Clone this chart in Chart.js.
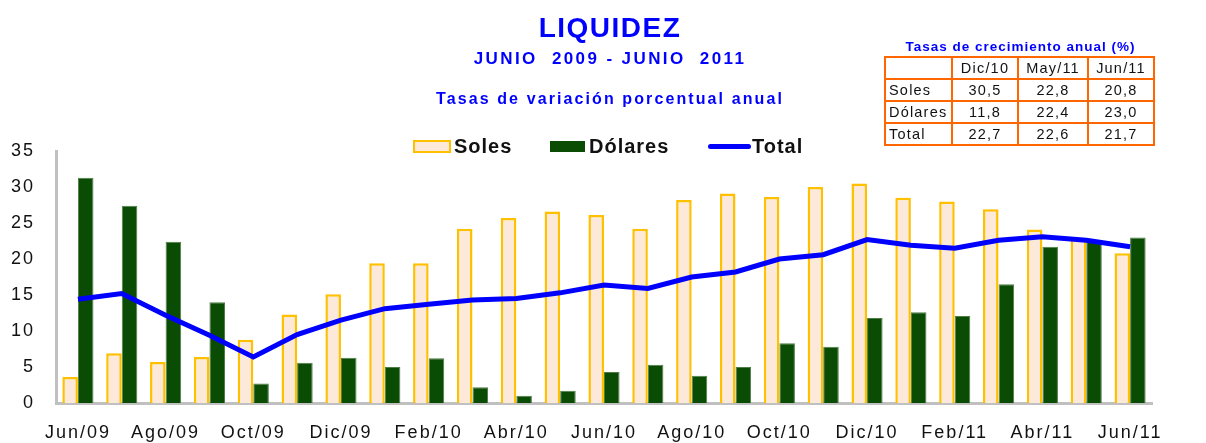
<!DOCTYPE html>
<html>
<head>
<meta charset="utf-8">
<script src="https://cdn.jsdelivr.net/npm/chart.js@4.4.1/dist/chart.umd.min.js"></script>
<style>
    body { margin: 0; background: #fff; font-family: 'Liberation Sans', Arial, sans-serif; }
    #wrap { position: relative; width: 1206px; height: 443px; overflow: hidden; }
    #chart { position: absolute; left: 0; top: 0; }
    .txt { position: absolute; color: #0000ff; font-weight: bold; white-space: pre; text-align: center; }
    #title { left: 0; width: 1220px; top: 12px; font-size: 28px; letter-spacing: 1.5px; }
    #sub1 { left: 0; width: 1220px; top: 49px; font-size: 17px; letter-spacing: 2.4px; }
    #sub2 { left: 0; width: 1220px; top: 90px; font-size: 16px; letter-spacing: 2.1px; }
    .leg { position: absolute; top: 135px; font-size: 20px; font-weight: bold; color: #111; letter-spacing: 1px; }
    .box { position: absolute; }
    #tblTitle { left: 884px; width: 273px; top: 39px; font-size: 13.5px; letter-spacing: 1px; }
    #tbl { position: absolute; left: 884px; top: 56px; border-collapse: collapse; font-size: 14.5px; letter-spacing: 1.2px; color: #111; }
    #tbl td { border: 2.5px solid #ff6600; height: 20px; padding: 0 3px; text-align: center; }
    #tbl td:first-child { text-align: left; }
</style>
</head>
<body>
<div id="wrap">
    <canvas id="chart" width="1206" height="443"></canvas>
    <div class="txt" id="title">LIQUIDEZ</div>
    <div class="txt" id="sub1">JUNIO  2009 - JUNIO  2011</div>
    <div class="txt" id="sub2">Tasas de variación porcentual anual</div>

    <div class="box" style="left:413px;top:140px;width:34px;height:9px;background:#fde9d9;border:2px solid #ffc000;"></div>
    <div class="leg" style="left:454px;">Soles</div>
    <div class="box" style="left:550px;top:141px;width:35px;height:11px;background:#0b4c05;"></div>
    <div class="leg" style="left:589px;">Dólares</div>
    <div class="box" style="left:708px;top:144px;width:43px;height:5px;background:#0000ff;border-radius:3px;"></div>
    <div class="leg" style="left:752px;">Total</div>

    <div class="txt" id="tblTitle">Tasas de crecimiento anual (%)</div>
    <table id="tbl"></table>
</div>
<script>
const months = ['Jun/09', 'Jul/09', 'Ago/09', 'Set/09', 'Oct/09', 'Nov/09', 'Dic/09',
    'Ene/10', 'Feb/10', 'Mar/10', 'Abr/10', 'May/10', 'Jun/10', 'Jul/10', 'Ago/10',
    'Set/10', 'Oct/10', 'Nov/10', 'Dic/10', 'Ene/11', 'Feb/11', 'Mar/11', 'Abr/11',
    'May/11', 'Jun/11'];

const soles = [3.6, 6.9, 5.7, 6.4, 8.8, 12.3, 15.1, 19.4, 19.4, 24.2, 25.7, 26.6, 26.1,
    24.2, 28.2, 29.1, 28.6, 30.0, 30.5, 28.5, 28.0, 26.9, 24.1, 22.8, 20.8];
const dolares = [31.3, 27.4, 22.4, 14.0, 2.7, 5.6, 6.3, 5.0, 6.2, 2.2, 1.0, 1.7, 4.3,
    5.3, 3.8, 5.0, 8.3, 7.8, 11.8, 12.6, 12.1, 16.5, 21.7, 22.4, 23.0];
const total = [14.4, 15.2, 12.2, 9.4, 6.4, 9.5, 11.5, 13.1, 13.7, 14.3, 14.5, 15.3, 16.4,
    15.9, 17.5, 18.2, 20.0, 20.6, 22.7, 21.9, 21.5, 22.6, 23.1, 22.6, 21.7];

// tabla de la esquina
const tableCols = ['Dic/10', 'May/11', 'Jun/11'];
const tableRows = ['Soles', 'Dólares', 'Total'];
const tableSoles = ['30,5', '22,8', '20,8'];
const tableDolares = ['11,8', '22,4', '23,0'];
const tableTotal = ['22,7', '22,6', '21,7'];

const colWidths = [59, 58, 62, 58];
function buildTable() {
    const tbl = document.getElementById('tbl');
    const rows = [[''].concat(tableCols)];
    const vals = [tableSoles, tableDolares, tableTotal];
    tableRows.forEach((name, i) => rows.push([name].concat(vals[i])));
    for (const r of rows) {
        const tr = document.createElement('tr');
        r.forEach((cell, j) => {
            const td = document.createElement('td');
            td.textContent = cell;
            td.style.width = colWidths[j] + 'px';
            tr.appendChild(td);
        });
        tbl.appendChild(tr);
    }
}
buildTable();

// espaciado de letras en el canvas
const spacingPlugin = {
    id: 'spacing',
    beforeLayout(chart) { chart.ctx.letterSpacing = '2px'; },
    beforeDraw(chart) { chart.ctx.letterSpacing = '2px'; },
};

new Chart(document.getElementById('chart'), {
    type: 'bar',
    data: {
        labels: months,
        datasets: [
            {
                type: 'line',
                label: 'Total',
                data: total,
                borderColor: '#0000ff',
                borderWidth: 5,
                pointRadius: 0,
                tension: 0,
                order: 0,
            },
            {
                label: 'Soles',
                data: soles,
                backgroundColor: '#fde9d9',
                borderColor: '#ffc000',
                borderWidth: 2.5,
                order: 1,
            },
            {
                label: 'Dólares',
                data: dolares,
                backgroundColor: '#0b4c05',
                borderColor: '#4f7d46',
                borderWidth: 1,
                order: 2,
            },
        ],
    },
    options: {
        responsive: false,
        animation: false,
        datasets: { bar: { categoryPercentage: 0.71, barPercentage: 1.0 } },
        layout: { padding: { top: 151, right: 54, left: 0, bottom: 0 } },
        plugins: { legend: { display: false }, tooltip: { enabled: false } },
        scales: {
            x: {
                grid: { display: false, drawTicks: false },
                border: { display: true, color: '#c0c0c0', width: 3 },
                ticks: {
                    autoSkip: false,
                    maxRotation: 0,
                    padding: 19,
                    color: '#111',
                    font: { family: "'Liberation Sans', Arial", size: 18 },
                    callback: (val, i) => (i % 2 === 0 ? months[i] : ''),
                },
                afterFit: (scale) => { scale.height = 40; },
            },
            y: {
                min: 0,
                max: 35,
                grid: { display: false, drawTicks: false },
                border: { display: true, color: '#c0c0c0', width: 3 },
                ticks: {
                    stepSize: 5,
                    padding: 21,
                    color: '#111',
                    font: { family: "'Liberation Sans', Arial", size: 18 },
                },
                afterFit: (scale) => { scale.width = 56; },
            },
        },
    },
    plugins: [spacingPlugin],
});
</script>
</body>
</html>
